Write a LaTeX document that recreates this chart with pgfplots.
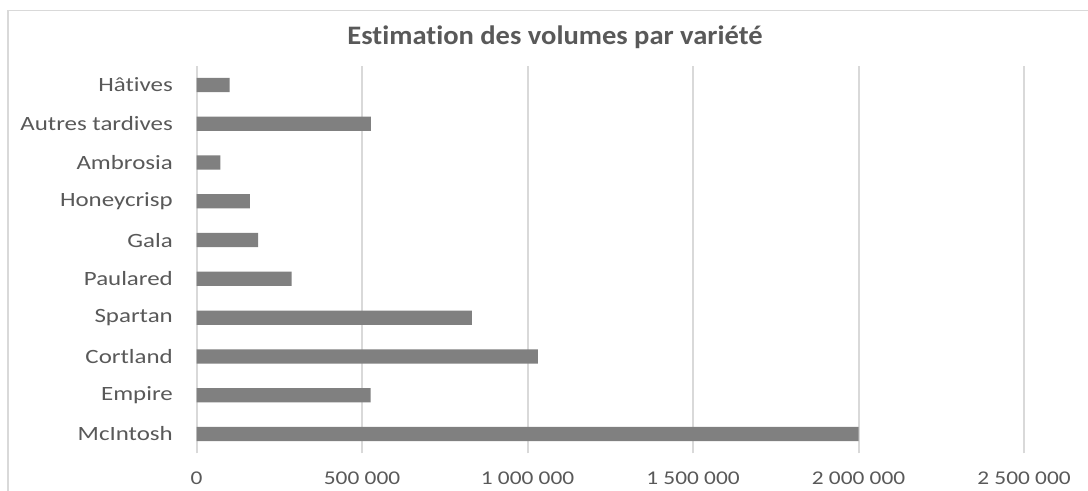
\documentclass[border=0pt]{standalone}
\usepackage{graphicx}
\usepackage{pgfplots}
\pgfplotsset{compat=1.18}
\usepackage{fontspec}
\setmainfont{Carlito}[RawFeature={-liga;-calt;-clig;-dlig}]
\definecolor{txt}{HTML}{595959}
\definecolor{gridc}{HTML}{D9D9D9}
\definecolor{barc}{HTML}{808080}
\newcommand{\sx}[1]{\scalebox{1.2}[1]{#1}}
\newcommand{\sy}[1]{\scalebox{1.23}[1]{#1}}
\pgfplotstableread{
y val
0 2000000
1 526000
2 1031000
3 832000
4 287000
5 186000
6 161000
7 72000
8 527000
9 100000
}\datatable
\begin{document}
\begin{tikzpicture}
\useasboundingbox (0,0) rectangle (816pt,368.25pt);
\fill[white] (0,0) rectangle (816pt,368.25pt);
\draw[gridc, line width=1.2pt] (6pt,-5pt) |- (830pt,360.4pt);
\node[anchor=base, text=txt, font=\fontsize{20}{24}\selectfont\bfseries] at (416.25pt,334.5pt) {\scalebox{1.07}[1]{Estimation des volumes par variété}};
\begin{axis}[
  at={(147.4pt,28.2pt)}, anchor=south west,
  scale only axis, width=620.6pt, height=290.9pt,
  xbar, bar width=10.7pt,
  xmin=0, xmax=2500000, ymin=-0.5, ymax=9.5,
  ytick={0,...,9},
  yticklabels={\sy{McIntosh},\sy{Empire},\sy{Cortland},\sy{Spartan},\sy{Paulared},\sy{Gala},\sy{Honeycrisp},\sy{Ambrosia},\sy{Autres tardives},\sy{Hâtives}},
  xtick={0,500000,1000000,1500000,2000000,2500000},
  xticklabels={\sx{0},\sx{500 000},\sx{1 000 000},\sx{1 500 000},\sx{2 000 000},\sx{2 500 000}},
  axis line style={draw=none},
  major tick length=0pt,
  xmajorgrids, ymajorgrids=false,
  major grid style={gridc, line width=1.5pt},
  yticklabel style={anchor=east, inner sep=0pt, xshift=-17.6pt, text=txt, font=\fontsize{15.2}{17}\selectfont},
  xticklabel style={anchor=north, inner sep=0pt, yshift=-14pt, text=txt, font=\fontsize{14.6}{17}\selectfont},
  clip=false,
]
\addplot[fill=barc, draw=none] table[x=val, y=y] {\datatable};
\end{axis}
\end{tikzpicture}
\end{document}
